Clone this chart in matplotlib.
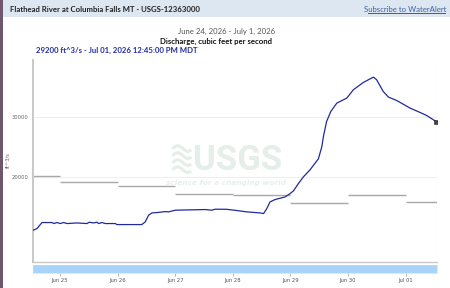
import matplotlib
matplotlib.use("Agg")
import matplotlib.pyplot as plt
import pandas as pd

# discharge readings (ft^3/s)
flow_times = [
    "2026-06-24 12:45", "2026-06-24 14:25", "2026-06-24 16:30", "2026-06-24 20:40",
    "2026-06-24 21:25", "2026-06-24 22:45", "2026-06-25 00:05", "2026-06-25 01:30",
    "2026-06-25 02:55", "2026-06-25 07:05", "2026-06-25 11:15", "2026-06-25 12:10",
    "2026-06-25 14:00", "2026-06-25 15:25", "2026-06-25 16:05", "2026-06-25 17:30",
    "2026-06-25 18:50", "2026-06-25 23:00", "2026-06-25 23:45", "2026-06-26 10:05",
    "2026-06-26 11:30", "2026-06-26 12:55", "2026-06-26 14:20", "2026-06-26 16:25",
    "2026-06-26 19:50", "2026-06-26 21:15", "2026-06-27 00:00", "2026-06-27 12:30",
    "2026-06-27 15:15", "2026-06-27 16:40", "2026-06-27 21:30", "2026-06-28 03:00",
    "2026-06-28 05:50", "2026-06-28 11:25", "2026-06-28 12:50", "2026-06-28 14:10",
    "2026-06-28 15:30", "2026-06-28 17:35", "2026-06-28 21:50", "2026-06-28 23:55",
    "2026-06-29 01:20", "2026-06-29 03:20", "2026-06-29 05:25", "2026-06-29 08:10",
    "2026-06-29 11:40", "2026-06-29 13:05", "2026-06-29 13:45", "2026-06-29 15:05",
    "2026-06-29 16:50", "2026-06-29 19:20", "2026-06-29 23:30", "2026-06-30 02:15",
    "2026-06-30 06:25", "2026-06-30 10:35", "2026-06-30 11:55", "2026-06-30 14:40",
    "2026-06-30 16:50", "2026-06-30 20:15", "2026-07-01 01:50", "2026-07-01 05:00",
    "2026-07-01 08:45", "2026-07-01 12:45",
]
flow_values = [
    11100, 11400, 12400, 12400,
    12230, 12400, 12230, 12400,
    12230, 12330, 12230, 12450,
    12330, 12450, 12230, 12400,
    12230, 12230, 12060, 12060,
    12500, 13620, 14000, 14060,
    14220, 14170, 14450, 14560,
    14450, 14620, 14600, 14330,
    14170, 14000, 13890, 14720,
    15830, 16220, 16670, 17220,
    17700, 18890, 20000, 21170,
    23000, 25000, 26700, 29220,
    30880, 32280, 33110, 34500,
    35720, 36600, 36170, 34220,
    33280, 32720, 31450, 30900,
    30220, 29200,
]

# daily median statistic (gray steps)
median_days = ["2026-06-24 12:45", "2026-06-25 00:00", "2026-06-26 00:00", "2026-06-27 00:00",
               "2026-06-28 00:00", "2026-06-29 00:00", "2026-06-30 00:00", "2026-07-01 00:00"]
median_values = [20200, 19100, 18550, 17170, 16900, 15720, 17050, 15830]

x_ticks = ["2026-06-25", "2026-06-26", "2026-06-27", "2026-06-28",
           "2026-06-29", "2026-06-30", "2026-07-01"]
x_labels = ["Jun 25", "Jun 26", "Jun 27", "Jun 28", "Jun 29", "Jun 30", "Jul 01"]
y_ticks = [20000, 30000]

t = pd.to_datetime(flow_times)
start, end = t[0], t[-1]
xend = end + pd.Timedelta(minutes=20)
med_t = pd.to_datetime(median_days)

fig = plt.figure(figsize=(4.5, 2.88), dpi=100)
fig.patch.set_facecolor("white")

# page furniture: header band, left border
fig.patches.append(plt.Rectangle((0, 1 - 17 / 288), 1, 17 / 288, transform=fig.transFigure,
                                 facecolor="#dde7f1", edgecolor="none", zorder=0))
fig.patches.append(plt.Rectangle((0, 0), 3 / 450, 1, transform=fig.transFigure,
                                 facecolor="#6e566e", edgecolor="none", zorder=1))
fig.text(10 / 450, 1 - 9 / 288, "Flathead River at Columbia Falls MT - USGS-12363000",
         family="Lato", weight="bold", fontsize=5.6, color="#222222", va="center")
fig.text(446 / 450, 1 - 9 / 288, "Subscribe to WaterAlert", family="Lato", fontsize=5.6,
         color="#3d5fa8", va="center", ha="right")
fig.patches.append(plt.Rectangle((368 / 450, 1 - 13.5 / 288), 78 / 450, 0.4 / 288,
                                 transform=fig.transFigure, facecolor="#3d5fa8", edgecolor="none"))
fig.text(227 / 450, 1 - 31 / 288, "June 24, 2026 - July 1, 2026", family="Lato", fontsize=5.6,
         color="#555555", ha="center", va="center")
fig.text(216 / 450, 1 - 41 / 288, "Discharge, cubic feet per second", family="Lato",
         weight="bold", fontsize=5.6, color="#111111", ha="center", va="center")
fig.text(36 / 450, 1 - 50 / 288, "29200 ft^3/s - Jul 01, 2026 12:45:00 PM MDT", family="Lato",
         weight="bold", fontsize=5.6, color="#1f2d9e", va="center")
fig.text(8 / 450, 1 - 160 / 288, "ft^3/s", fontsize=3.8, color="#666666", rotation=90,
         ha="center", va="center")

ax = fig.add_axes([33 / 450, 26.3 / 288, 404 / 450, 201.7 / 288])
ax.set_xlim(start, xend)
ax.set_ylim(5880, 39450)
for s in ["top", "right"]:
    ax.spines[s].set_visible(False)
ax.spines["left"].set_color("#c8c8c8")
ax.spines["left"].set_linewidth(1.4)
ax.spines["bottom"].set_color("#c8c8c8")
ax.spines["bottom"].set_linewidth(1.0)
ax.set_xticks([])
ax.set_yticks(y_ticks)
ax.set_yticklabels([str(v) for v in y_ticks], fontsize=3.8, color="#666666")
ax.tick_params(axis="y", length=0, pad=3)
ax.grid(axis="y", color="#efefef", lw=0.8)
ax.axvline(xend, color="#cfcfcf", lw=0.8, ls=(0, (1, 1.5)))

# watermark: wave mark, USGS, tagline
wm = "#e5eee9"
ax.text(0.507, 0.503, "USGS", transform=ax.transAxes, fontsize=25, weight="bold",
        family="Roboto", color=wm, ha="center", va="center", zorder=0)
ax.text(0.478, 0.39, "science for a changing world", transform=ax.transAxes, fontsize=5.3,
        style="italic", weight="bold", family="DejaVu Sans", color="#e8efec",
        ha="center", va="center", zorder=0)
wave_x = [0.345, 0.352, 0.360, 0.368, 0.376, 0.384, 0.392]
wave_dy = [0.0, 0.012, 0.016, 0.006, -0.008, -0.014, -0.006]
for base in [0.455, 0.49, 0.525, 0.56]:
    ax.plot(wave_x, [base + d for d in wave_dy], transform=ax.transAxes, color=wm,
            lw=2.2, solid_capstyle="butt", zorder=0)

# daily median steps
med_end = list(med_t[1:]) + [xend]
ax.hlines(median_values, list(med_t), med_end, color="#a8a8a8", lw=1.0, zorder=2)

ax.plot(t, flow_values, color="#1f2a9c", lw=0.9, zorder=3)
ax.plot([t[-1]], [flow_values[-1]], marker="s", ms=2.6, color="#444444",
        mec="#222222", mew=0.4, zorder=4)

# navigator strip with the date ticks
nav = fig.add_axes([33 / 450, 15 / 288, 404 / 450, 8 / 288])
nav.set_xlim(ax.get_xlim())
nav.set_facecolor("#a9d4fa")
nav.set_yticks([])
for s in nav.spines.values():
    s.set_color("#c9d9e6")
    s.set_linewidth(0.4)
nav.set_xticks(pd.to_datetime(x_ticks))
nav.set_xticklabels(x_labels, fontsize=3.8, color="#555555")
nav.tick_params(axis="x", length=2, width=0.5, color="#999999", pad=1.5)

fig.savefig("out.png", dpi=100)
